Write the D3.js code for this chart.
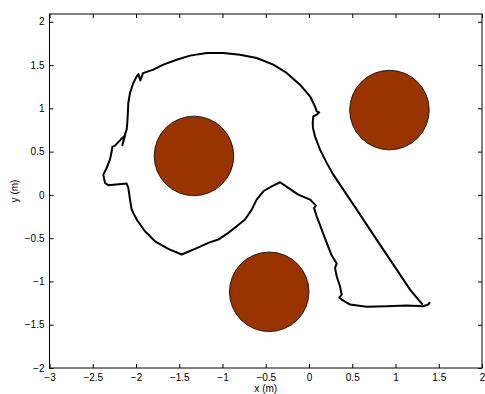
<!DOCTYPE html>
<html>
<head>
<meta charset="utf-8">
<script src="https://cdn.jsdelivr.net/npm/d3@7"></script>
<style>
  body { margin: 0; background: #fff; }
  svg { display: block; }
  text { font-family: "Liberation Sans", Arial, sans-serif; }
</style>
</head>
<body>
<svg id="chart" width="485" height="394"></svg>
<script>
// obstacles (x, y in metres), all same radius
const obstacleX = [-1.33, 0.93, -0.46];
const obstacleY = [0.45, 0.98, -1.12];
const obstacleR = 0.46;

// robot path
const pathX = [1.399, 1.379, 1.321, 1.130, 0.898, 0.667, 0.474, 0.378, 0.350, 0.378,
  0.358, 0.320, 0.301, 0.320, 0.263, 0.205, 0.147, 0.089, 0.058, 0.081,
  0.012, -0.124, -0.239, -0.335, -0.431, -0.528, -0.605, -0.662, -0.740, -0.836,
  -0.933, -1.049, -1.164, -1.318, -1.472, -1.627, -1.780, -1.896, -1.992, -2.050,
  -2.069, -2.089, -2.108, -2.320, -2.358, -2.378, -2.339, -2.301, -2.281, -2.274,
  -2.243, -2.177, -2.127, -2.158, -2.124, -2.108, -2.101, -2.096, -2.089, -2.069,
  -2.031, -1.992, -1.971, -1.950, -1.919, -1.800, -1.684, -1.530, -1.376, -1.183,
  -0.991, -0.798, -0.605, -0.413, -0.258, -0.104, 0.012, 0.069, 0.089, 0.119,
  0.089, 0.050, 0.043, 0.046, 0.069, 0.127, 0.205, 0.281, 0.397, 0.552,
  0.705, 0.859, 1.014, 1.168, 1.264, 1.315];
const pathY = [-1.240, -1.267, -1.286, -1.278, -1.286, -1.293, -1.267, -1.209, -1.189, -1.151,
  -1.055, -0.940, -0.843, -0.793, -0.701, -0.554, -0.401, -0.247, -0.150, -0.124,
  -0.054, 0.004, 0.081, 0.146, 0.099, 0.042, -0.054, -0.170, -0.285, -0.363,
  -0.439, -0.516, -0.554, -0.624, -0.689, -0.624, -0.536, -0.420, -0.285, -0.170,
  -0.054, 0.081, 0.131, 0.111, 0.139, 0.234, 0.312, 0.408, 0.504, 0.554,
  0.569, 0.639, 0.685, 0.575, 0.708, 0.754, 0.831, 0.908, 1.062, 1.178,
  1.293, 1.369, 1.395, 1.323, 1.407, 1.447, 1.505, 1.562, 1.609, 1.640,
  1.640, 1.620, 1.582, 1.505, 1.409, 1.274, 1.139, 1.023, 0.965, 0.954,
  0.927, 0.908, 0.831, 0.774, 0.677, 0.523, 0.370, 0.234, 0.061, -0.170,
  -0.401, -0.632, -0.863, -1.094, -1.209, -1.267];

const xTicks = [-3, -2.5, -2, -1.5, -1, -0.5, 0, 0.5, 1, 1.5, 2];
const yTicks = [-2, -1.5, -1, -0.5, 0, 0.5, 1, 1.5, 2];

const svg = d3.select("#chart");
const plotLeft = 49.5, plotRight = 482, plotTop = 14, plotBottom = 368;

// axis equal: 5 m across, so y runs a bit past 2
const x = d3.scaleLinear().domain([-3, 2]).range([plotLeft, plotRight]);
const y = d3.scaleLinear().domain([-2, 2.09]).range([plotBottom, plotTop]);

const fmt = d3.format("~g");

// obstacles
svg.append("g")
  .selectAll("circle")
  .data(obstacleX.map((d, i) => ({ x: d, y: obstacleY[i] })))
  .join("circle")
  .attr("cx", d => x(d.x))
  .attr("cy", d => y(d.y))
  .attr("r", x(obstacleR) - x(0))
  .attr("fill", "#993300")
  .attr("stroke", "#000")
  .attr("stroke-width", 0.8);

// path
const line = d3.line().x(d => x(d[0])).y(d => y(d[1]));
svg.append("path")
  .datum(pathX.map((d, i) => [d, pathY[i]]))
  .attr("d", line)
  .attr("fill", "none")
  .attr("stroke", "#000")
  .attr("stroke-width", 2)
  .attr("stroke-linejoin", "round");

// axes, ticks pointing inward on all four sides
function styleAxis(g) {
  g.select(".domain").remove();
  g.selectAll("line").attr("stroke", "#000");
  g.selectAll("text").attr("font-size", 10).attr("fill", "#000");
}

svg.append("g")
  .attr("transform", `translate(0,${plotBottom})`)
  .call(d3.axisBottom(x).tickValues(xTicks).tickFormat(fmt).tickSizeInner(-4).tickSizeOuter(0).tickPadding(6))
  .call(styleAxis);

svg.append("g")
  .attr("transform", `translate(0,${plotTop})`)
  .call(d3.axisTop(x).tickValues(xTicks).tickFormat("").tickSizeInner(-4).tickSizeOuter(0))
  .call(styleAxis);

svg.append("g")
  .attr("transform", `translate(${plotLeft},0)`)
  .call(d3.axisLeft(y).tickValues(yTicks).tickFormat(fmt).tickSizeInner(-4).tickSizeOuter(0).tickPadding(5))
  .call(styleAxis);

svg.append("g")
  .attr("transform", `translate(${plotRight},0)`)
  .call(d3.axisRight(y).tickValues(yTicks).tickFormat("").tickSizeInner(-4).tickSizeOuter(0))
  .call(styleAxis);

// frame
svg.append("rect")
  .attr("x", plotLeft).attr("y", plotTop)
  .attr("width", plotRight - plotLeft).attr("height", plotBottom - plotTop)
  .attr("fill", "none")
  .attr("stroke", "#000")
  .attr("stroke-width", 1);

svg.append("text")
  .attr("x", (plotLeft + plotRight) / 2)
  .attr("y", 392)
  .attr("text-anchor", "middle")
  .attr("font-size", 10)
  .text("x (m)");

svg.append("text")
  .attr("transform", `translate(18,${(plotTop + plotBottom) / 2}) rotate(-90)`)
  .attr("text-anchor", "middle")
  .attr("font-size", 10)
  .text("y (m)");
</script>
</body>
</html>
